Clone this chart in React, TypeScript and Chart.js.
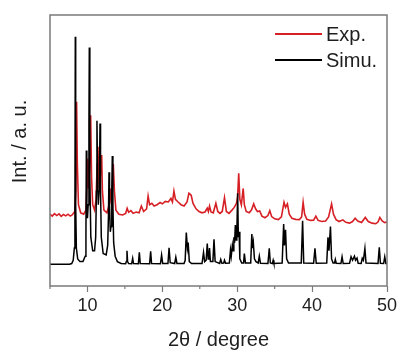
import React, { useEffect, useRef } from "react";
import { Chart, registerables } from "chart.js";

Chart.register(...registerables);

// 2θ (degree) and intensity (a.u.) pairs
const EXP_POINTS: [number, number][] = [
  [5, 26.5], [5.3, 25.8], [5.6, 26.7], [5.9, 26], [6.2, 26.6], [6.5, 25.7], [6.8, 26.4], [7.1, 25.9],
  [7.4, 26.5], [7.7, 25.8], [8.0, 26.3], [8.3, 27.5], [8.45, 35], [8.55, 68], [8.65, 45], [8.8, 30],
  [9.1, 27], [9.5, 26.5], [9.8, 28], [9.95, 38], [10.05, 47], [10.15, 36], [10.3, 45], [10.43, 63],
  [10.55, 40], [10.7, 30], [10.95, 28], [11.15, 32], [11.3, 45], [11.4, 51.4], [11.5, 40], [11.6, 36],
  [11.75, 42], [11.9, 48.3], [12.0, 35], [12.2, 28], [12.6, 27], [12.9, 30], [13.05, 36], [13.15, 32],
  [13.3, 34], [13.45, 45], [13.6, 35], [13.8, 28], [14.2, 26.5], [14.7, 26.2], [15.1, 26.8], [15.3, 28.7],
  [15.5, 27.2], [15.8, 27.8], [16.1, 26.8], [16.5, 27.3], [16.9, 27], [17.2, 29.5], [17.5, 27.5],
  [17.9, 28.5], [18.1, 33.2], [18.3, 30], [18.6, 30.5], [18.9, 29.5], [19.3, 30], [19.7, 30.8],
  [20.0, 30.3], [20.4, 31.2], [20.8, 31], [21.15, 32.3], [21.35, 31], [21.55, 35], [21.75, 32],
  [22.1, 31], [22.5, 30], [22.9, 29.5], [23.3, 31], [23.55, 34.2], [23.85, 33.5], [24.1, 30.5],
  [24.5, 28.5], [24.9, 27.5], [25.3, 27], [25.7, 27.3], [26.0, 28.7], [26.15, 27.5], [26.3, 29.5],
  [26.5, 27.3], [26.8, 27], [27.15, 30.5], [27.4, 27.5], [27.7, 26.8], [28.0, 27.5], [28.3, 32.6],
  [28.55, 27.5], [28.9, 26.8], [29.3, 28], [29.6, 29], [29.9, 30.5], [30.05, 33], [30.2, 41.6],
  [30.35, 32], [30.55, 30], [30.8, 36], [30.95, 30], [31.2, 27.5], [31.6, 27], [31.9, 28], [32.2, 30.3],
  [32.45, 28.5], [32.7, 27.5], [33.0, 27.7], [33.3, 25.8], [33.7, 25.2], [34.1, 26], [34.35, 27.8],
  [34.6, 25.6], [35.0, 24.8], [35.5, 24.5], [35.9, 25.5], [36.25, 30.9], [36.45, 29], [36.7, 30.3],
  [36.95, 26.5], [37.3, 25], [37.8, 24.6], [38.3, 24.5], [38.6, 25.5], [38.8, 30.9], [39.0, 26.5],
  [39.3, 24.6], [39.8, 24.2], [40.2, 24.3], [40.5, 25.8], [40.8, 24.2], [41.3, 23.8], [41.8, 24],
  [42.2, 25.5], [42.6, 30.3], [42.85, 26.5], [43.2, 24.5], [43.6, 23.8], [44.1, 24.4], [44.5, 23.5],
  [45.0, 23.2], [45.4, 23.8], [45.75, 25], [46.1, 24], [46.6, 23.4], [47.1, 25.3], [47.5, 23.8],
  [48.0, 23.2], [48.5, 23], [48.8, 23.6], [49.05, 25.3], [49.35, 24], [49.7, 23.4], [50, 23.6],
];

const SIMU_POINTS: [number, number][] = [
  [5, 8], [7.6, 8.05], [7.9, 8.3], [8.1, 9.5], [8.25, 14], [8.33, 30], [8.38, 92], [8.43, 30],
  [8.52, 14], [8.7, 10], [9.0, 9], [9.4, 9], [9.7, 11], [9.8, 20], [9.85, 50], [9.92, 30], [10.0, 25],
  [10.1, 30], [10.2, 60], [10.25, 88], [10.32, 40], [10.45, 18], [10.7, 13], [10.95, 13], [11.1, 18],
  [11.2, 35], [11.27, 61], [11.35, 40], [11.45, 30], [11.55, 35], [11.62, 45], [11.68, 60], [11.75, 35],
  [11.85, 18], [12.1, 12], [12.5, 11.5], [12.7, 15], [12.8, 25], [12.88, 42], [12.95, 30], [13.05, 20],
  [13.15, 22], [13.25, 35], [13.32, 48], [13.4, 30], [13.5, 16], [13.7, 11], [14.0, 9], [14.5, 8.3],
  [15.1, 8.2], [15.2, 9], [15.28, 13], [15.36, 9], [15.5, 8.3], [15.9, 8.2], [16.04, 10.2], [16.15, 8.3],
  [16.8, 8.2], [16.93, 12.4], [17.05, 8.3], [18.3, 8.2], [18.44, 12.8], [18.56, 8.3], [19.75, 8.2],
  [19.9, 11.4], [20.05, 8.3], [20.75, 8.3], [20.9, 14.1], [21.05, 8.6], [21.65, 8.3], [21.8, 10.6],
  [21.95, 8.3], [22.9, 8.3], [23.05, 9.5], [23.2, 19.7], [23.35, 14], [23.45, 16], [23.6, 9], [23.9, 8.3],
  [25.3, 8.3], [25.5, 12.4], [25.65, 9], [25.85, 9.5], [26.0, 15.7], [26.12, 10], [26.22, 11], [26.3, 14],
  [26.42, 9], [26.75, 9], [26.9, 17.2], [27.05, 9], [27.65, 8.3], [27.8, 9.8], [27.95, 8.4], [28.2, 8.5],
  [28.3, 9.5], [28.45, 8.4], [28.95, 8.5], [29.1, 13.3], [29.2, 11], [29.35, 15], [29.45, 13], [29.55, 18],
  [29.65, 16], [29.75, 22.5], [29.85, 17], [29.95, 20], [30.06, 34.2], [30.15, 18], [30.25, 20],
  [30.35, 10], [30.6, 8.5], [30.85, 8.5], [30.95, 12], [31.1, 8.5], [31.8, 8.5], [31.95, 19.2],
  [32.05, 14], [32.15, 16], [32.3, 10], [32.5, 9], [32.8, 8.5], [32.95, 11], [33.1, 8.4], [34.1, 8.3],
  [34.28, 13.9], [34.42, 8.5], [34.7, 8.3], [34.8, 9.5], [34.9, 8.3], [36.0, 8.5], [36.2, 22.9],
  [36.3, 15], [36.45, 20.7], [36.6, 10], [36.85, 8.5], [38.55, 8.5], [38.73, 24.1], [38.88, 8.5],
  [40.2, 8.4], [40.38, 13.9], [40.55, 8.4], [41.95, 8.5], [42.12, 18], [42.25, 13], [42.45, 21.9],
  [42.6, 10], [42.8, 8.5], [43.0, 8.5], [43.1, 9.8], [43.22, 8.4], [43.85, 8.3], [44.0, 10.8],
  [44.15, 8.3], [45.0, 8.4], [45.2, 10.8], [45.4, 9.5], [45.65, 11], [45.8, 9.5], [46.0, 10.3],
  [46.15, 8.4], [46.55, 8.3], [46.7, 10.2], [46.85, 9.5], [47.05, 13.9], [47.2, 8.5], [48.8, 8.3],
  [48.97, 14.3], [49.12, 8.4], [49.55, 8.3], [49.7, 10.8], [49.85, 8.3], [50, 8.3],
];

const SERIES_LABELS = ["Exp.", "Simu."];
const SERIES_COLORS = ["rgb(214,32,38)", "#000000"];
const X_MAJOR_TICKS = [10, 20, 30, 40, 50];
const X_MINOR_TICKS = [5, 15, 25, 35, 45];
const X_TITLE = "2θ / degree";
const Y_TITLE = "Int. / a. u.";

const FRAME = "#7a7a7a";
const TEXT = "#1e1e1e";
const FONT = "Liberation Sans, Arial, sans-serif";

export default function App() {
  const ref = useRef<HTMLCanvasElement>(null);

  useEffect(() => {
    if (!ref.current) return;
    const decor = {
      id: "decor",
      afterDraw(chart: any) {
        const { ctx, chartArea: a } = chart;
        const xs = chart.scales.x;
        ctx.save();
        // frame
        ctx.strokeStyle = FRAME;
        ctx.lineWidth = 1.5;
        ctx.strokeRect(a.left, a.top, a.right - a.left, a.bottom - a.top);
        // minor ticks
        ctx.lineWidth = 1.2;
        X_MINOR_TICKS.forEach((v) => {
          const px = xs.getPixelForValue(v);
          ctx.beginPath();
          ctx.moveTo(px, a.bottom);
          ctx.lineTo(px, a.bottom + 3);
          ctx.stroke();
        });
        // y title
        ctx.fillStyle = TEXT;
        ctx.font = `20px ${FONT}`;
        ctx.textAlign = "center";
        ctx.textBaseline = "middle";
        ctx.save();
        ctx.translate(20, 141.5);
        ctx.rotate(-Math.PI / 2);
        ctx.fillText(Y_TITLE, 0, 0);
        ctx.restore();
        // legend
        const rows = [34, 60];
        SERIES_LABELS.forEach((lab, i) => {
          ctx.strokeStyle = SERIES_COLORS[i];
          ctx.lineWidth = 2;
          ctx.beginPath();
          ctx.moveTo(275, rows[i]);
          ctx.lineTo(322, rows[i]);
          ctx.stroke();
          ctx.fillStyle = TEXT;
          ctx.textAlign = "left";
          ctx.fillText(lab, 326, rows[i] + 1);
        });
        ctx.restore();
      },
    };

    const chart = new Chart(ref.current, {
      type: "line",
      data: {
        datasets: [
          {
            label: SERIES_LABELS[0],
            data: EXP_POINTS as any,
            borderColor: SERIES_COLORS[0],
            borderWidth: 1.6,
            pointRadius: 0,
            tension: 0,
            order: 2,
          },
          {
            label: SERIES_LABELS[1],
            data: SIMU_POINTS as any,
            borderColor: SERIES_COLORS[1],
            borderWidth: 1.5,
            pointRadius: 0,
            tension: 0,
            order: 1,
          },
        ],
      },
      options: {
        responsive: false,
        animation: false,
        events: [],
        layout: { padding: { left: 0, right: 16, top: 15, bottom: 0 } },
        plugins: { legend: { display: false }, tooltip: { enabled: false } },
        scales: {
          x: {
            type: "linear",
            min: 5,
            max: 50,
            border: { display: false },
            grid: {
              display: true,
              drawOnChartArea: false,
              drawTicks: true,
              tickLength: 6,
              tickWidth: 1.2,
              tickColor: (c: any) =>
                X_MAJOR_TICKS.includes(c.tick?.value) ? FRAME : "rgba(0,0,0,0)",
            },
            ticks: {
              stepSize: 5,
              autoSkip: false,
              maxRotation: 0,
              padding: 3,
              color: TEXT,
              font: { family: FONT, size: 18 },
              callback: (v: any) => (X_MAJOR_TICKS.includes(Number(v)) ? String(v) : ""),
            },
            title: {
              display: true,
              text: X_TITLE,
              color: TEXT,
              font: { family: FONT, size: 20 },
              padding: { top: 0, bottom: 0 },
            },
            afterFit: (s: any) => {
              s.height = 66;
            },
          },
          y: {
            type: "linear",
            min: 0,
            max: 100,
            border: { display: false },
            grid: { display: false },
            ticks: { display: false },
            afterFit: (s: any) => {
              s.width = 50;
            },
          },
        },
      },
      plugins: [decor],
    });
    return () => chart.destroy();
  }, []);

  return (
    <div style={{ position: "fixed", left: 0, top: 0, width: 403, height: 352, background: "#fff" }}>
      <canvas ref={ref} width={403} height={352} style={{ display: "block" }} />
    </div>
  );
}
